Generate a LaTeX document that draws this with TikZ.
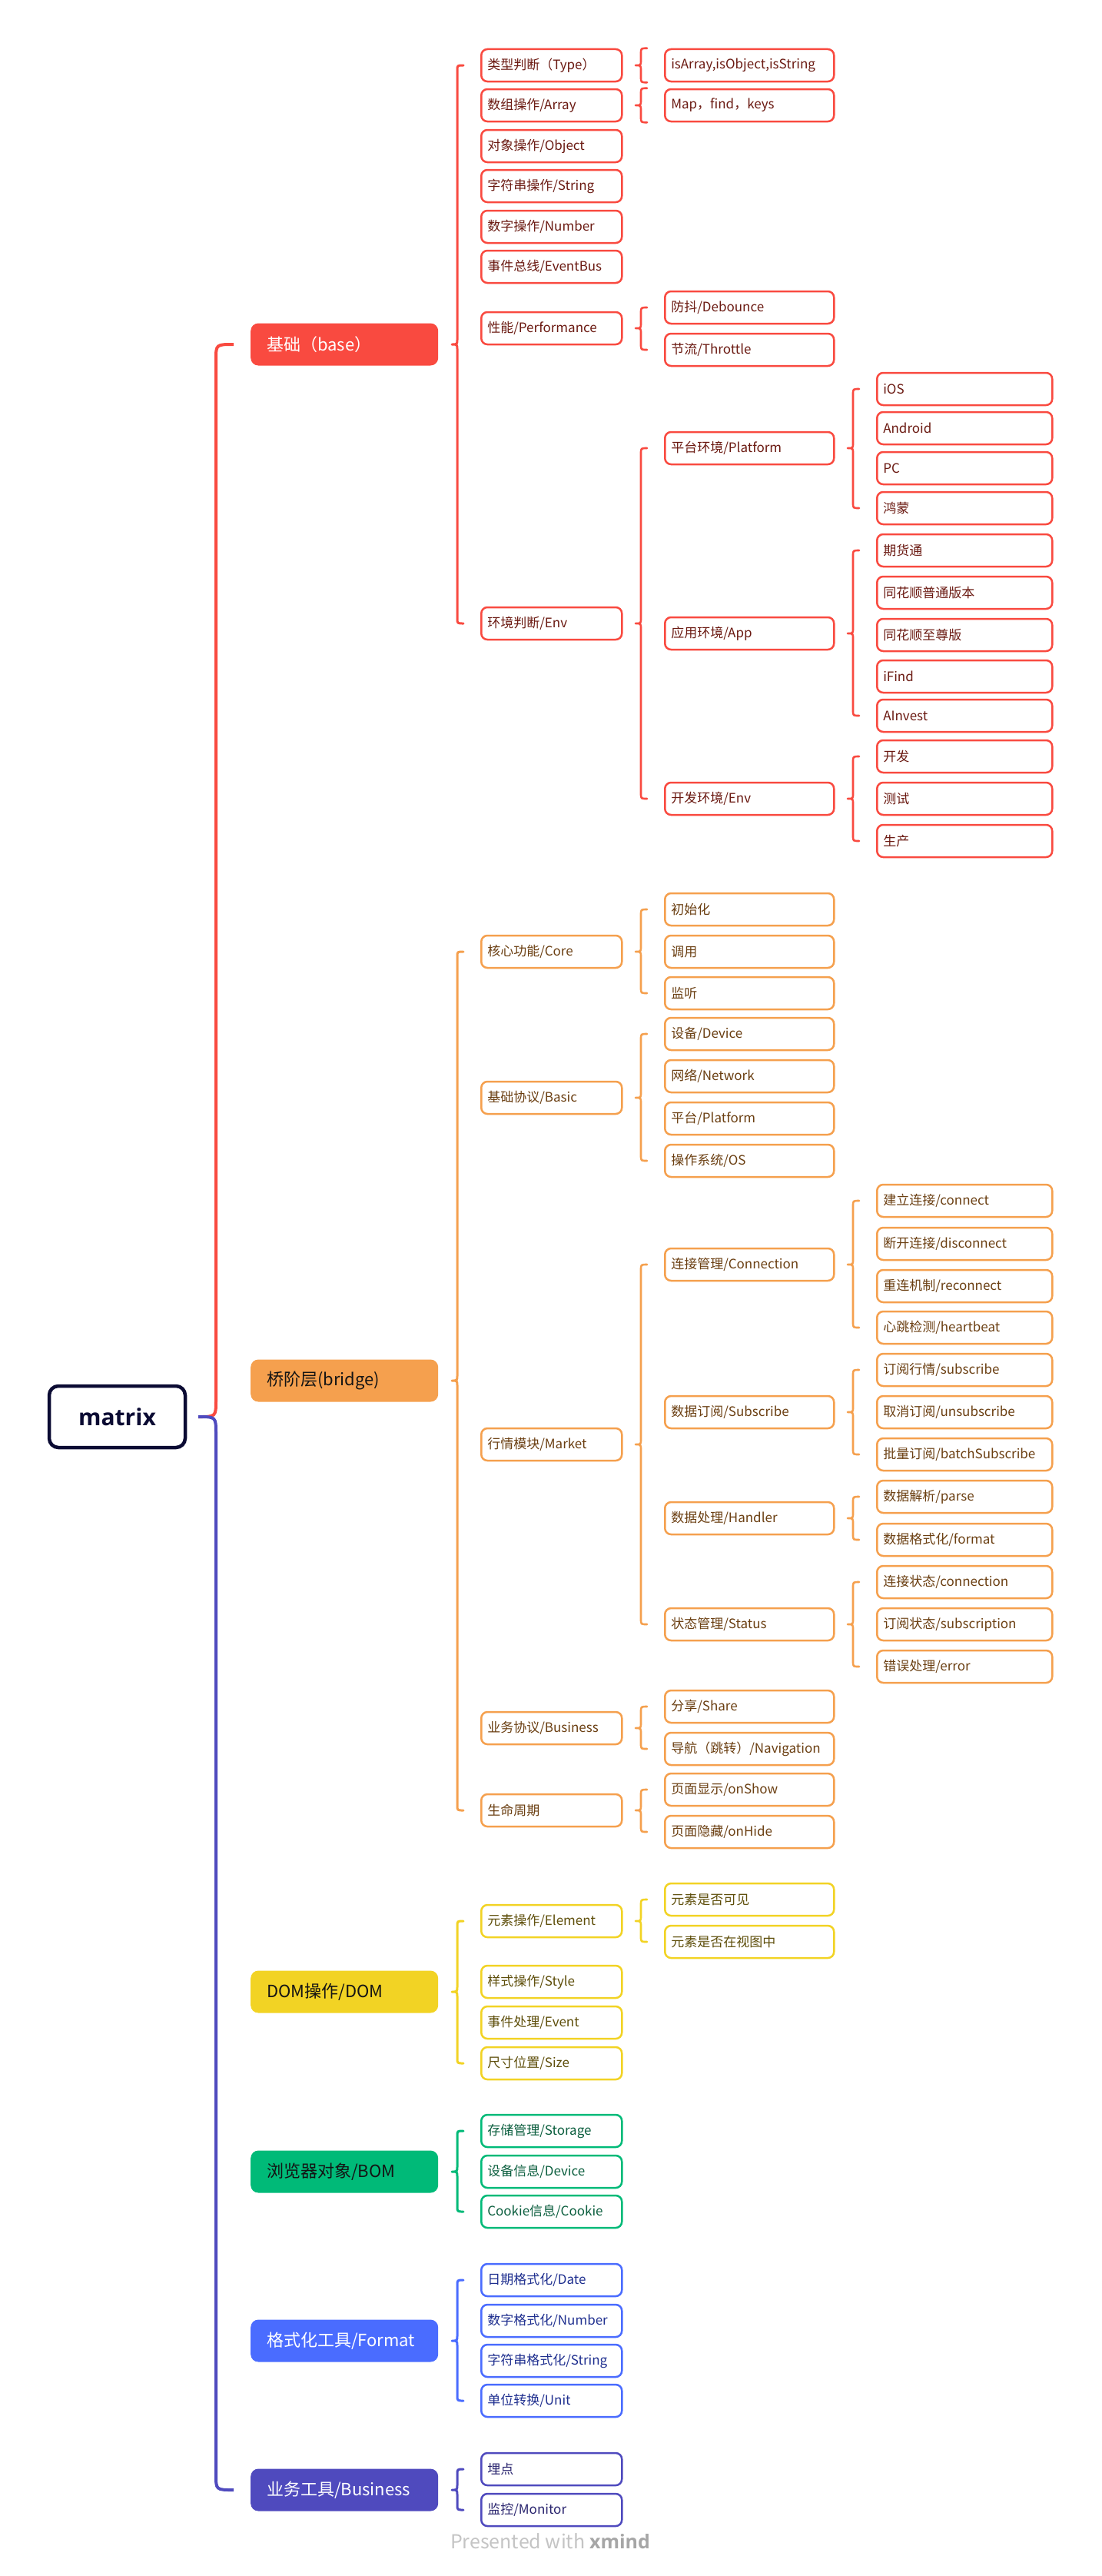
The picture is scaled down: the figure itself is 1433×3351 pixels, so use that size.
\documentclass[tikz,border=0pt]{standalone}
\usepackage{fontspec}
\setmainfont{Noto Sans CJK SC}
\newfontfamily\latinbold{Open Sans}
\usetikzlibrary{calc}
\definecolor{cRoot}{HTML}{0B0B33}
\definecolor{cRed}{HTML}{F94A40}
\definecolor{cOra}{HTML}{F5A04E}
\definecolor{cYel}{HTML}{F2D324}
\definecolor{cGrn}{HTML}{00BA78}
\definecolor{cBlu}{HTML}{4A6CFF}
\definecolor{cPur}{HTML}{4F4ABE}
\definecolor{tRed}{HTML}{6B1A12}
\definecolor{tOra}{HTML}{6B3F12}
\definecolor{tYel}{HTML}{5E4E0A}
\definecolor{tGrn}{HTML}{0B5E3E}
\definecolor{tBlu}{HTML}{1F2F8F}
\definecolor{tPur}{HTML}{29246E}
\definecolor{tDark}{HTML}{141414}
\definecolor{wmA}{HTML}{C4C4C4}
\definecolor{wmB}{HTML}{A6A6A6}
% brace from parent to children: #1 style, #2 parent, #3 top anchor, #4 bottom anchor
\newcommand\brc[4]{%
  \draw[#1] let \p1=(#2.east), \p2=(#3), \p3=(#4) in
    (\x2-37pt,\y1) .. controls (\x2-30pt,\y1) .. (\x2-30pt,\y1+7pt)
      -- (\x2-30pt,\y2-7pt) .. controls (\x2-30pt,\y2) .. (\x2-22pt,\y2)
    (\x2-37pt,\y1) .. controls (\x2-30pt,\y1) .. (\x2-30pt,\y1-7pt)
      -- (\x2-30pt,\y3+7pt) .. controls (\x2-30pt,\y3) .. (\x2-22pt,\y3);}
\begin{document}
\begin{tikzpicture}[x=1pt,y=-1pt,
  l1/.style={rounded corners=10pt, anchor=west, minimum height=55pt, text width=202pt,
    inner xsep=21pt, inner ysep=0pt, align=left, font=\fontsize{22}{26}\selectfont},
  box/.style={rounded corners=8pt, line width=2.5pt, fill=white, anchor=west, align=left,
    minimum height=42pt, inner ysep=0pt, inner xsep=8pt, font=\fontsize{17}{20}\selectfont},
  l2/.style={box, text width=167pt},
  l3/.style={box, text width=204pt},
  l4/.style={box, text width=212pt},
  rd/.style={draw=cRed, text=tRed},
  or/.style={draw=cOra, text=tOra},
  ye/.style={draw=cYel, text=tYel},
  gr/.style={draw=cGrn, text=tGrn},
  bl/.style={draw=cBlu, text=tBlu},
  pu/.style={draw=cPur, text=tPur},
  br/.style={line width=2.6pt, line cap=round},
  brA/.style={line width=3pt, line cap=round}]
\useasboundingbox (0,0) rectangle (1433,3351);
\fill[white] (0,0) rectangle (1433,3351);

% root
\node[draw=cRoot, line width=4.5pt, rounded corners=12pt, minimum width=177pt, minimum height=80pt,
  font=\latinbold\bfseries\fontsize{30}{36}\selectfont, text=cRoot] (root) at (152.5,1843) {matrix};

% level 1
\node[l1, fill=cRed, text=white] (base) at (326,448) {基础（base）};
\node[l1, fill=cOra, text=tDark] (bridge) at (326,1796) {桥阶层(bridge)};
\node[l1, fill=cYel, text=tDark] (dom) at (326,2591) {DOM操作/DOM};
\node[l1, fill=cGrn, text=tDark] (bom) at (326,2825) {浏览器对象/BOM};
\node[l1, fill=cBlu, text=white] (fmt) at (326,3045) {格式化工具/Format};
\node[l1, fill=cPur, text=white] (biz) at (326,3239) {业务工具/Business};

% root brace (two colours)
\draw[line width=4pt, cRed] let \p1=(root.east), \p2=(base.west) in
  (\x2-68pt,\y1) .. controls (\x2-45pt,\y1) .. (\x2-45pt,\y1+22pt)
  -- (\x2-45pt,\y2-20pt) .. controls (\x2-45pt,\y2) .. (\x2-22pt,\y2);
\draw[line width=4pt, cPur] let \p1=(root.east), \p2=(biz.west) in
  (\x2-68pt,\y1) .. controls (\x2-45pt,\y1) .. (\x2-45pt,\y1-22pt)
  -- (\x2-45pt,\y2+20pt) .. controls (\x2-45pt,\y2) .. (\x2-22pt,\y2);

% ---------- base ----------
\node[l2,rd] (type) at (625,85) {类型判断（Type）};
\node[l2,rd] (array) at (625,137) {数组操作/Array};
\node[l2,rd] (object) at (625,190) {对象操作/Object};
\node[l2,rd] (string) at (625,242) {字符串操作/String};
\node[l2,rd] (number) at (625,295) {数字操作/Number};
\node[l2,rd] (eventbus) at (625,347) {事件总线/EventBus};
\node[l2,rd] (perf) at (625,427) {性能/Performance};
\node[l2,rd] (env) at (625,811) {环境判断/Env};
\brc{brA,cRed}{base}{type.west}{env.west}

\node[l3,rd] (isarr) at (864,85) {isArray,isObject,isString};
\node[l3,rd] (mapfk) at (864,137) {Map，find，keys};
\node[l3,rd] (debounce) at (864,400) {防抖/Debounce};
\node[l3,rd] (throttle) at (864,455) {节流/Throttle};
\node[l3,rd] (platform) at (864,583) {平台环境/Platform};
\node[l3,rd] (app) at (864,824) {应用环境/App};
\node[l3,rd] (devenv) at (864,1039) {开发环境/Env};
\brc{br,cRed}{type}{isarr.north west}{isarr.south west}
\brc{br,cRed}{array}{mapfk.north west}{mapfk.south west}
\brc{br,cRed}{perf}{debounce.west}{throttle.west}
\brc{br,cRed}{env}{platform.west}{devenv.west}

\node[l4,rd] (ios) at (1140,506) {iOS};
\node[l4,rd] (android) at (1140,557) {Android};
\node[l4,rd] (pc) at (1140,609) {PC};
\node[l4,rd] (hm) at (1140,661) {鸿蒙};
\node[l4,rd] (qht) at (1140,716) {期货通};
\node[l4,rd] (thsp) at (1140,771) {同花顺普通版本};
\node[l4,rd] (thzz) at (1140,826) {同花顺至尊版};
\node[l4,rd] (ifind) at (1140,880) {iFind};
\node[l4,rd] (ainv) at (1140,931) {AInvest};
\node[l4,rd] (kf) at (1140,984) {开发};
\node[l4,rd] (cs) at (1140,1039) {测试};
\node[l4,rd] (sc) at (1140,1094) {生产};
\brc{br,cRed}{platform}{ios.west}{hm.west}
\brc{br,cRed}{app}{qht.west}{ainv.west}
\brc{br,cRed}{devenv}{kf.west}{sc.west}

% ---------- bridge ----------
\node[l2,or] (core) at (625,1238) {核心功能/Core};
\node[l2,or] (basic) at (625,1428) {基础协议/Basic};
\node[l2,or] (market) at (625,1879) {行情模块/Market};
\node[l2,or] (bizproto) at (625,2248) {业务协议/Business};
\node[l2,or] (life) at (625,2355) {生命周期};
\brc{brA,cOra}{bridge}{core.west}{life.west}

\node[l3,or] (init) at (864,1183) {初始化};
\node[l3,or] (call) at (864,1238) {调用};
\node[l3,or] (listen) at (864,1292) {监听};
\node[l3,or] (bdev) at (864,1345) {设备/Device};
\node[l3,or] (bnet) at (864,1400) {网络/Network};
\node[l3,or] (bplat) at (864,1455) {平台/Platform};
\node[l3,or] (bos) at (864,1510) {操作系统/OS};
\node[l3,or] (conn) at (864,1645) {连接管理/Connection};
\node[l3,or] (sub) at (864,1837) {数据订阅/Subscribe};
\node[l3,or] (handler) at (864,1975) {数据处理/Handler};
\node[l3,or] (status) at (864,2113) {状态管理/Status};
\node[l3,or] (share) at (864,2220) {分享/Share};
\node[l3,or] (nav) at (864,2275) {导航（跳转）/Navigation};
\node[l3,or] (show) at (864,2328) {页面显示/onShow};
\node[l3,or] (hide) at (864,2383) {页面隐藏/onHide};
\brc{br,cOra}{core}{init.west}{listen.west}
\brc{br,cOra}{basic}{bdev.west}{bos.west}
\brc{br,cOra}{market}{conn.west}{status.west}
\brc{br,cOra}{bizproto}{share.west}{nav.west}
\brc{br,cOra}{life}{show.west}{hide.west}

\node[l4,or] (connect) at (1140,1562) {建立连接/connect};
\node[l4,or] (disc) at (1140,1618) {断开连接/disconnect};
\node[l4,or] (reconn) at (1140,1673) {重连机制/reconnect};
\node[l4,or] (hb) at (1140,1727) {心跳检测/heartbeat};
\node[l4,or] (subs) at (1140,1782) {订阅行情/subscribe};
\node[l4,or] (unsub) at (1140,1837) {取消订阅/unsubscribe};
\node[l4,or] (batch) at (1140,1892) {批量订阅/batchSubscribe};
\node[l4,or] (parse) at (1140,1947) {数据解析/parse};
\node[l4,or] (format) at (1140,2003) {数据格式化/format};
\node[l4,or] (cstat) at (1140,2058) {连接状态/connection};
\node[l4,or] (sstat) at (1140,2113) {订阅状态/subscription};
\node[l4,or] (err) at (1140,2168) {错误处理/error};
\brc{br,cOra}{conn}{connect.west}{hb.west}
\brc{br,cOra}{sub}{subs.west}{batch.west}
\brc{br,cOra}{handler}{parse.west}{format.west}
\brc{br,cOra}{status}{cstat.west}{err.west}

% ---------- DOM ----------
\node[l2,ye] (elem) at (625,2499) {元素操作/Element};
\node[l2,ye] (style) at (625,2578) {样式操作/Style};
\node[l2,ye] (event) at (625,2631) {事件处理/Event};
\node[l2,ye] (size) at (625,2684) {尺寸位置/Size};
\brc{brA,cYel}{dom}{elem.west}{size.west}
\node[l3,ye] (visible) at (864,2471) {元素是否可见};
\node[l3,ye] (inview) at (864,2526) {元素是否在视图中};
\brc{br,cYel}{elem}{visible.west}{inview.west}

% ---------- BOM ----------
\node[l2,gr] (storage) at (625,2772) {存储管理/Storage};
\node[l2,gr] (device) at (625,2825) {设备信息/Device};
\node[l2,gr] (cookie) at (625,2877) {Cookie信息/Cookie};
\brc{brA,cGrn}{bom}{storage.west}{cookie.west}

% ---------- Format ----------
\node[l2,bl] (date) at (625,2966) {日期格式化/Date};
\node[l2,bl] (num) at (625,3019) {数字格式化/Number};
\node[l2,bl] (str) at (625,3071) {字符串格式化/String};
\node[l2,bl] (unit) at (625,3123) {单位转换/Unit};
\brc{brA,cBlu}{fmt}{date.west}{unit.west}

% ---------- Business ----------
\node[l2,pu] (bury) at (625,3212) {埋点};
\node[l2,pu] (monitor) at (625,3265) {监控/Monitor};
\brc{brA,cPur}{biz}{bury.west}{monitor.west}

% watermark
\node[text=wmA, font=\fontsize{25}{30}\selectfont] (wm) at (716,3306)
  {Presented with {\color{wmB}\latinbold\bfseries xmind}};
\end{tikzpicture}
\end{document}
